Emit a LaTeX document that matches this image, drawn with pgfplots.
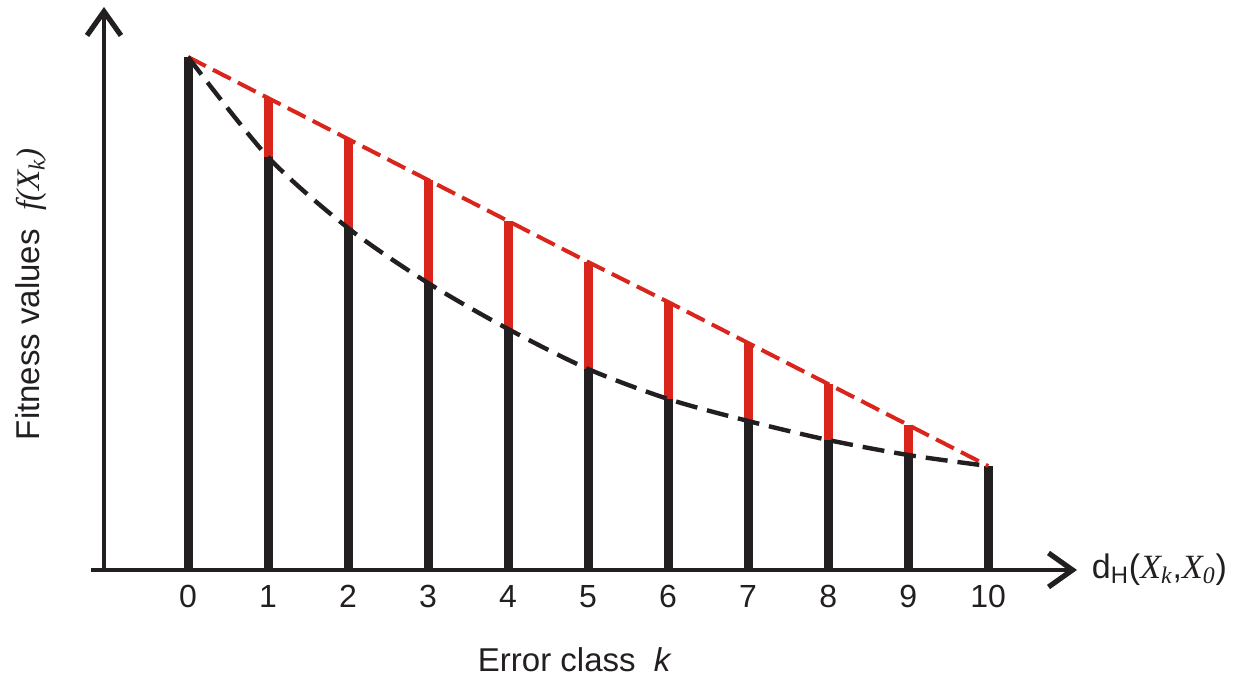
\documentclass[border=0pt]{standalone}
\usepackage{fontspec}
\setmainfont{Liberation Sans}
\newfontfamily\tms{Liberation Serif}
\usepackage{pgfplots}
\usepackage{pgfplotstable}
\pgfplotsset{compat=1.18}
\usetikzlibrary{arrows.meta}
\definecolor{myred}{HTML}{DA251D}
\definecolor{myblack}{HTML}{231F20}

\pgfplotstableread{
k black red
0 513 513
1 413 472
2 342 431
3 287 390
4 241 349
5 201 308
6 171 268
7 149 227
8 130 186
9 115 145
10 104 104
}\data

\begin{document}
\begin{tikzpicture}
\begin{axis}[name=ax, at={(0,0)}, anchor=south west,
  scale only axis, width=486.5pt, height=281.5pt,
  xmin=-1.05, xmax=11.11, ymin=0, ymax=563,
  axis lines=left,
  axis line style={line width=2pt, color=myblack, -{Straight Barb[length=12pt,width=17pt,line width=2.6pt]}},
  x axis line style={shorten <=-6.5pt},
  xtick={0,...,10}, ytick=\empty, major tick length=0pt,
  /pgf/number format/assume math mode=true,
  tick label style={font=\fontsize{16}{19}\selectfont, text=myblack},
  xticklabel style={yshift=-4pt},
  xlabel={Error class\ \ \textit{k}},
  ylabel={Fitness values\ \ {\tms\itshape f(X\textsubscript{k})}},
  label style={font=\fontsize{16.5}{19}\selectfont, text=myblack},
  xlabel style={at={(axis description cs:0.484,-0.16)}, anchor=center},
  ylabel style={at={(axis description cs:-0.075,0.49)}, anchor=center},
  clip=false]
\addplot[ycomb, line width=4.5pt, color=myred, mark=none] table[x=k,y=red]{\data};
\addplot[ycomb, line width=4.5pt, color=myblack, mark=none] table[x=k,y=black]{\data};
\addplot[myred, line width=2pt, dash pattern=on 10pt off 4pt, mark=none] table[x=k,y=red]{\data};
\addplot[myblack, smooth, line width=2.2pt, dash pattern=on 11pt off 5pt, mark=none] table[x=k,y=black]{\data};
\node[anchor=west, font=\fontsize{17}{20}\selectfont, text=myblack] at (axis description cs:1.008,0)
  {d\textsubscript{H}({\tms\itshape X\textsubscript{k}},{\tms\itshape X\textsubscript{0}})};
\end{axis}
\pgfresetboundingbox
\path[use as bounding box] ([shift={(-52pt,-56.5pt)}]ax.south west) rectangle ([shift={(85pt,3.5pt)}]ax.north east);
\end{tikzpicture}
\end{document}
